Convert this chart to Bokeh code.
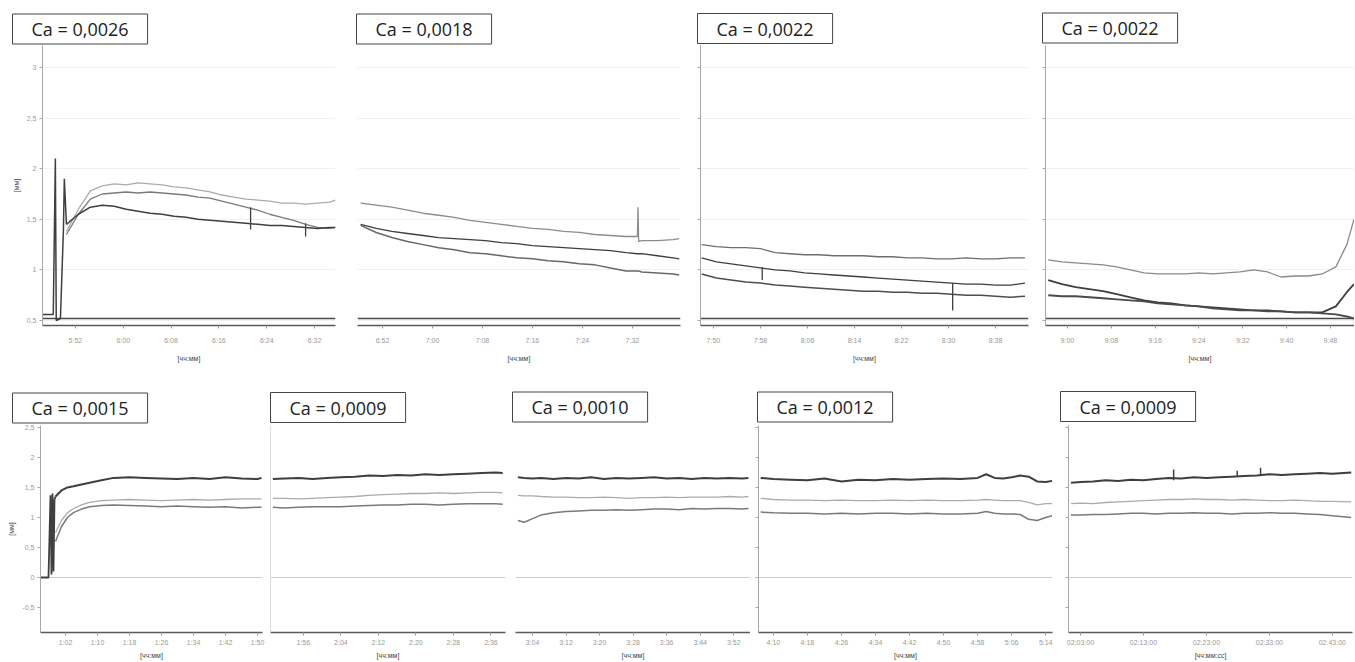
from bokeh.plotting import figure
from bokeh.layouts import row, column
from bokeh.models import Range1d, FixedTicker, Title
from bokeh.embed import file_html
from bokeh.resources import INLINE

# ---------------- data ----------------
ca_labels = ["Ca = 0,0026", "Ca = 0,0018", "Ca = 0,0022", "Ca = 0,0022",
             "Ca = 0,0015", "Ca = 0,0009", "Ca = 0,0010", "Ca = 0,0012", "Ca = 0,0009"]

top_yticks = [0.5, 1.0, 1.5, 2.0, 2.5, 3.0]
top_ylabels = ["0,5", "1", "1,5", "2", "2,5", "3"]
bot_yticks = [-0.5, 0.0, 0.5, 1.0, 1.5, 2.0, 2.5]
bot_ylabels = ["-0,5", "0", "0,5", "1", "1,5", "2", "2,5"]
top_base = 0.52
bot_zero = 0.0

p1_ticks = [0, 8, 16, 24, 32, 40]
p1_labels = ["5:52", "6:00", "6:08", "6:16", "6:24", "6:32"]
p1_x = [-1.5, 0.5, 2.5, 4.5, 6.5, 8.5, 10.5, 12.5, 14.5, 16.5, 18.5, 20.5, 22.5, 24.5, 26.5, 28.5, 30.5, 32.5, 34.5, 36.5, 38.5, 40.5, 42.5, 43.5]
p1_a = [1.38, 1.60, 1.78, 1.83, 1.85, 1.84, 1.86, 1.85, 1.84, 1.82, 1.81, 1.79, 1.77, 1.74, 1.72, 1.70, 1.69, 1.68, 1.66, 1.66, 1.65, 1.66, 1.67, 1.69]
p1_b = [1.35, 1.55, 1.70, 1.75, 1.76, 1.77, 1.76, 1.77, 1.76, 1.75, 1.74, 1.72, 1.71, 1.68, 1.65, 1.62, 1.59, 1.55, 1.52, 1.49, 1.45, 1.42, 1.41, 1.42]
p1_c = [1.45, 1.55, 1.62, 1.64, 1.63, 1.60, 1.58, 1.56, 1.55, 1.53, 1.52, 1.50, 1.49, 1.48, 1.47, 1.46, 1.45, 1.44, 1.44, 1.43, 1.42, 1.41, 1.42, 1.42]
p1_tr_x = [-5.5, -3.7, -3.35, -3.2, -2.5, -2.0, -1.85, -1.5]
p1_tr_y = [0.56, 0.56, 2.10, 0.50, 0.52, 1.40, 1.90, 1.45]
p1_sp_x = [29.3, 38.5]
p1_sp_lo = [1.40, 1.33]
p1_sp_hi = [1.62, 1.46]

p2_ticks = [0, 8, 16, 24, 32, 40]
p2_labels = ["6:52", "7:00", "7:08", "7:16", "7:24", "7:32"]
p2_x = [-3.5, -1, 1.5, 4, 6.5, 9, 11.5, 14, 16.5, 19, 21.5, 24, 26.5, 29, 31.5, 34, 36.5, 39, 40.8, 40.9, 41.0, 41.5, 44, 46.5, 47.5]
p2_a = [1.66, 1.64, 1.62, 1.59, 1.56, 1.54, 1.52, 1.49, 1.47, 1.45, 1.43, 1.41, 1.40, 1.38, 1.37, 1.35, 1.34, 1.33, 1.33, 1.62, 1.28, 1.29, 1.29, 1.30, 1.31]
p2_b = [1.45, 1.41, 1.38, 1.36, 1.34, 1.32, 1.31, 1.30, 1.29, 1.27, 1.26, 1.24, 1.23, 1.22, 1.21, 1.20, 1.19, 1.17, 1.16, 1.16, 1.16, 1.16, 1.14, 1.12, 1.11]
p2_c = [1.44, 1.37, 1.32, 1.28, 1.25, 1.22, 1.20, 1.17, 1.16, 1.14, 1.12, 1.11, 1.09, 1.08, 1.06, 1.05, 1.02, 0.99, 0.99, 0.99, 0.99, 0.98, 0.97, 0.96, 0.95]

p3_ticks = [0, 8, 16, 24, 32, 40, 48]
p3_labels = ["7:50", "7:58", "8:06", "8:14", "8:22", "8:30", "8:38"]
p3_x = [-2, 0.5, 3, 5.5, 8, 10.5, 13, 15.5, 18, 20.5, 23, 25.5, 28, 30.5, 33, 35.5, 38, 40.5, 43, 45.5, 48, 50.5, 53]
p3_a = [1.25, 1.23, 1.22, 1.22, 1.21, 1.17, 1.16, 1.15, 1.15, 1.14, 1.14, 1.14, 1.13, 1.13, 1.12, 1.12, 1.11, 1.11, 1.12, 1.11, 1.11, 1.12, 1.12]
p3_b = [1.12, 1.08, 1.06, 1.04, 1.02, 1.00, 0.99, 0.97, 0.96, 0.95, 0.94, 0.93, 0.92, 0.91, 0.90, 0.89, 0.88, 0.87, 0.86, 0.86, 0.85, 0.85, 0.87]
p3_c = [0.96, 0.92, 0.90, 0.88, 0.87, 0.85, 0.84, 0.83, 0.82, 0.81, 0.80, 0.79, 0.79, 0.78, 0.78, 0.77, 0.77, 0.76, 0.75, 0.75, 0.74, 0.73, 0.74]
p3_sp_x = [8.3, 40.7]
p3_sp_lo = [0.90, 0.60]
p3_sp_hi = [1.03, 0.87]

p4_ticks = [0, 8, 16, 24, 32, 40, 48]
p4_labels = ["9:00", "9:08", "9:16", "9:24", "9:32", "9:40", "9:48"]
p4_x = [-3.5, -1, 1.5, 4, 6.5, 9, 11.5, 14, 16.5, 19, 21.5, 24, 26.5, 29, 31.5, 34, 36.5, 39, 41.5, 44, 46.5, 49, 51, 52.3]
p4_a = [1.10, 1.08, 1.07, 1.06, 1.05, 1.03, 1.00, 0.97, 0.96, 0.96, 0.96, 0.97, 0.96, 0.97, 0.98, 1.00, 0.98, 0.93, 0.94, 0.94, 0.96, 1.03, 1.25, 1.50]
p4_b = [0.90, 0.86, 0.83, 0.81, 0.79, 0.76, 0.73, 0.70, 0.68, 0.67, 0.65, 0.64, 0.63, 0.62, 0.61, 0.60, 0.60, 0.59, 0.58, 0.58, 0.58, 0.64, 0.78, 0.86]
p4_c = [0.75, 0.74, 0.74, 0.73, 0.72, 0.71, 0.70, 0.69, 0.67, 0.66, 0.65, 0.64, 0.62, 0.61, 0.60, 0.60, 0.59, 0.59, 0.58, 0.58, 0.57, 0.56, 0.54, 0.52]

p5_ticks = [0, 8, 16, 24, 32, 40, 48]
p5_labels = ["1:02", "1:10", "1:18", "1:26", "1:34", "1:42", "1:50"]
p5_x = [-2.5, -1, 0.5, 2, 4, 6, 9, 12, 16, 20, 24, 28, 32, 36, 40, 44, 48, 49]
p5_dark = [1.35, 1.45, 1.50, 1.52, 1.55, 1.58, 1.62, 1.66, 1.67, 1.66, 1.65, 1.64, 1.66, 1.64, 1.67, 1.65, 1.64, 1.66]
p5_light = [0.75, 0.95, 1.08, 1.15, 1.21, 1.25, 1.28, 1.29, 1.30, 1.29, 1.28, 1.29, 1.30, 1.29, 1.30, 1.31, 1.31, 1.31]
p5_med = [0.60, 0.85, 1.00, 1.08, 1.14, 1.18, 1.20, 1.21, 1.20, 1.19, 1.18, 1.19, 1.18, 1.17, 1.18, 1.16, 1.17, 1.17]
p5_tr_x = [-6.25, -4.25, -3.75, -3.5, -3.25, -3.0, -2.75, -2.5]
p5_tr_y = [0.0, 0.0, 1.37, 0.05, 1.40, 0.10, 1.30, 1.35]

p6_ticks = [0, 8, 16, 24, 32, 40]
p6_labels = ["1:56", "2:04", "2:12", "2:20", "2:28", "2:36"]
p6_x = [-6.5, -4, -1, 2, 5, 8, 11, 14, 17, 20, 23, 26, 29, 32, 35, 38, 41, 42.5]
p6_dark = [1.64, 1.65, 1.66, 1.64, 1.66, 1.67, 1.68, 1.70, 1.69, 1.71, 1.70, 1.72, 1.71, 1.72, 1.73, 1.74, 1.75, 1.74]
p6_light = [1.32, 1.32, 1.31, 1.32, 1.33, 1.34, 1.35, 1.37, 1.38, 1.39, 1.40, 1.40, 1.41, 1.40, 1.41, 1.42, 1.42, 1.41]
p6_med = [1.17, 1.16, 1.17, 1.18, 1.18, 1.18, 1.19, 1.20, 1.21, 1.21, 1.22, 1.22, 1.21, 1.22, 1.23, 1.23, 1.23, 1.22]

p7_ticks = [0, 8, 16, 24, 32, 40, 48]
p7_labels = ["3:04", "3:12", "3:20", "3:28", "3:36", "3:44", "3:52"]
p7_x = [-3.5, -2, 0, 2, 5, 8, 11, 14, 17, 20, 23, 26, 29, 32, 35, 38, 41, 44, 47, 50, 51.5]
p7_dark = [1.67, 1.66, 1.65, 1.66, 1.64, 1.66, 1.65, 1.67, 1.64, 1.66, 1.65, 1.66, 1.67, 1.65, 1.66, 1.64, 1.66, 1.65, 1.66, 1.65, 1.66]
p7_light = [1.37, 1.36, 1.36, 1.35, 1.34, 1.34, 1.33, 1.33, 1.34, 1.33, 1.32, 1.33, 1.33, 1.34, 1.33, 1.34, 1.34, 1.34, 1.35, 1.34, 1.35]
p7_med = [0.95, 0.92, 0.98, 1.04, 1.08, 1.10, 1.11, 1.12, 1.12, 1.13, 1.12, 1.13, 1.14, 1.14, 1.13, 1.15, 1.14, 1.15, 1.15, 1.14, 1.15]

p8_ticks = [0, 8, 16, 24, 32, 40, 48, 56, 64]
p8_labels = ["4:10", "4:18", "4:26", "4:34", "4:42", "4:50", "4:58", "5:06", "5:14"]
p8_x = [-3, 0, 4, 8, 12, 16, 20, 24, 28, 32, 36, 40, 44, 48, 50, 52, 54, 56, 58, 60, 62, 64, 65.5]
p8_dark = [1.66, 1.64, 1.63, 1.62, 1.65, 1.60, 1.63, 1.62, 1.64, 1.63, 1.64, 1.65, 1.64, 1.66, 1.72, 1.66, 1.65, 1.67, 1.70, 1.68, 1.60, 1.59, 1.61]
p8_light = [1.32, 1.30, 1.29, 1.29, 1.28, 1.29, 1.28, 1.28, 1.29, 1.28, 1.29, 1.28, 1.28, 1.29, 1.30, 1.29, 1.28, 1.28, 1.28, 1.25, 1.21, 1.23, 1.23]
p8_med = [1.09, 1.08, 1.07, 1.07, 1.06, 1.07, 1.06, 1.07, 1.07, 1.06, 1.07, 1.06, 1.06, 1.07, 1.10, 1.07, 1.06, 1.06, 1.05, 0.97, 0.95, 1.00, 1.03]

p9_ticks = [0, 10, 20, 30, 40]
p9_labels = ["02:03:00", "02:13:00", "02:23:00", "02:33:00", "02:43:00"]
p9_x = [-1.5, 0, 2, 4, 6, 8, 10, 12, 14, 16, 18, 20, 22, 24, 26, 28, 30, 32, 34, 36, 38, 40, 43]
p9_dark = [1.58, 1.59, 1.60, 1.62, 1.61, 1.63, 1.62, 1.64, 1.66, 1.65, 1.67, 1.66, 1.67, 1.68, 1.69, 1.70, 1.72, 1.71, 1.72, 1.73, 1.74, 1.73, 1.75]
p9_light = [1.23, 1.24, 1.23, 1.25, 1.26, 1.27, 1.28, 1.29, 1.30, 1.30, 1.31, 1.30, 1.30, 1.29, 1.30, 1.29, 1.28, 1.28, 1.29, 1.28, 1.27, 1.27, 1.26]
p9_med = [1.04, 1.04, 1.05, 1.05, 1.06, 1.07, 1.07, 1.06, 1.07, 1.07, 1.08, 1.07, 1.07, 1.06, 1.07, 1.07, 1.08, 1.07, 1.07, 1.06, 1.05, 1.03, 1.00]
p9_sp_x = [14.8, 24.9, 28.6]
p9_sp_lo = [1.62, 1.68, 1.70]
p9_sp_hi = [1.80, 1.78, 1.83]

# ---------------- styling ----------------
DARK = "#3f3f3f"
MED = "#7a7a7a"
LIGHT = "#ababab"
TOP_Y = (0.451, 3.217)
BOT_Y = (-0.917, 2.533)


def panel(width, height, lb, rb, tb, bb, xr, yr, xticks, xlabels, yticks, ylabels,
          yaxis_mode, xlab, ylab, label_text, box_dx, box_gap, top_row):
    p = figure(width=width, height=height, min_border_left=lb, min_border_right=rb,
               min_border_top=tb, min_border_bottom=bb,
               x_range=Range1d(*xr), y_range=Range1d(*yr),
               output_backend="svg", toolbar_location=None, tools="",
               y_axis_location=None if yaxis_mode == "none" else "left")
    p.outline_line_color = None
    p.border_fill_color = "white"
    p.background_fill_color = "white"
    p.xgrid.grid_line_color = None
    p.ygrid.grid_line_color = "#f1f1f1" if top_row else None
    p.ygrid.ticker = FixedTicker(ticks=yticks)

    xa = p.xaxis[0]
    xa.ticker = FixedTicker(ticks=xticks)
    xa.major_label_overrides = {t: l for t, l in zip(xticks, xlabels)}
    xa.major_label_text_font_size = "7px"
    xa.major_label_text_color = "#9a9a9a"
    xa.major_label_text_font = "Liberation Sans"
    xa.major_label_standoff = 8 if top_row else 3
    xa.axis_line_color = "#5a5a5a"
    xa.axis_line_width = 1.5
    xa.major_tick_line_color = "#9a9a9a"
    xa.major_tick_out = 3
    xa.major_tick_in = 0
    xa.minor_tick_line_color = None
    xa.axis_label = xlab
    xa.axis_label_text_font_size = "7px"
    xa.axis_label_text_font_style = "normal"
    xa.axis_label_text_color = "#444444"
    xa.axis_label_standoff = 8 if top_row else 3

    if yaxis_mode != "none":
        ya = p.yaxis[0]
        ya.axis_line_color = "#a8a8a8"
        ya.major_tick_line_color = "#a8a8a8"
        ya.major_tick_out = 3
        ya.major_tick_in = 0
        if yaxis_mode == "full":
            ya.ticker = FixedTicker(ticks=yticks)
            ya.minor_tick_line_color = None
            ya.major_label_overrides = {t: l for t, l in zip(yticks, ylabels)}
            ya.major_label_text_font_size = "7px"
            ya.major_label_text_color = "#9a9a9a"
            ya.major_label_standoff = 3
            ya.axis_label = ylab
            ya.axis_label_text_font_size = "7px"
            ya.axis_label_text_font_style = "normal"
            ya.axis_label_text_color = "#444444"
            ya.axis_label_standoff = 4
        elif yaxis_mode == "bare":
            ya.ticker = FixedTicker(ticks=[], minor_ticks=yticks)
            ya.minor_tick_line_color = "#a8a8a8"
            ya.minor_tick_out = 3
            ya.minor_tick_in = 0
            ya.major_label_standoff = 0
        else:  # axis line only
            ya.axis_line_color = "#dedede"
            ya.ticker = FixedTicker(ticks=[])
            ya.minor_tick_line_color = None
            ya.major_tick_line_color = None
            ya.major_label_standoff = 0

    p.title = Title(text=label_text, align="left", offset=box_dx, standoff=box_gap,
                    text_font="Open Sans", text_font_size="18px", text_font_style="normal",
                    text_color="#222222", background_fill_color="white",
                    border_line_color="#444444", border_line_width=1, padding=(19, 3))
    return p


def three(p, x, a, b, c, ca, cb, cc, wa=1.3, wb=1.3, wc=1.5):
    p.line(x, a, line_color=ca, line_width=wa)
    p.line(x, b, line_color=cb, line_width=wb)
    p.line(x, c, line_color=cc, line_width=wc)


TH, TT, TB = 380, 45, 55
BH, BT, BB = 281, 45, 29

f1 = panel(345, TH, 42, 10, TT, TB, (-5.5, 43.5), TOP_Y, p1_ticks, p1_labels, top_yticks, top_ylabels,
           "full", "[чч:мм]", "[мм]", ca_labels[0], -30, 3, True)
f1.line([-5.5, 43.5], [top_base, top_base], line_color="#4a4a4a", line_width=1.3)
three(f1, p1_x, p1_a, p1_b, p1_c, LIGHT, MED, DARK)
f1.line(p1_tr_x, p1_tr_y, line_color=DARK, line_width=1.5)
f1.segment(x0=p1_sp_x, y0=p1_sp_lo, x1=p1_sp_x, y1=p1_sp_hi, line_color=DARK, line_width=1.3)

f2 = panel(345, TH, 12, 10, TT, TB, (-4.0, 47.7), TOP_Y, p2_ticks, p2_labels, top_yticks, top_ylabels,
           "none", "[чч:мм]", "", ca_labels[1], -1, 3, True)
f2.line([-4.0, 47.7], [top_base, top_base], line_color="#4a4a4a", line_width=1.3)
three(f2, p2_x, p2_a, p2_b, p2_c, "#8c8c8c", DARK, "#686868")

f3 = panel(345, TH, 10, 7, TT, TB, (-2.2, 53.6), TOP_Y, p3_ticks, p3_labels, top_yticks, top_ylabels,
           "bare", "[чч:мм]", "", ca_labels[2], -3, 4, True)
f3.line([-2.2, 53.6], [top_base, top_base], line_color="#4a4a4a", line_width=1.3)
three(f3, p3_x, p3_a, p3_b, p3_c, "#6e6e6e", DARK, "#4e4e4e")
f3.segment(x0=p3_sp_x, y0=p3_sp_lo, x1=p3_sp_x, y1=p3_sp_hi, line_color=DARK, line_width=1.3)

f4 = panel(319, TH, 10, 0, TT, TB, (-4.0, 52.4), TOP_Y, p4_ticks, p4_labels, top_yticks, top_ylabels,
           "bare", "[чч:мм]", "", ca_labels[3], -3, 5, True)
f4.line([-4.0, 52.4], [top_base, top_base], line_color="#4a4a4a", line_width=1.3)
three(f4, p4_x, p4_a, p4_b, p4_c, "#8a8a8a", DARK, "#4a4a4a", wb=1.8, wc=1.8)

f5 = panel(267, BH, 40, 5, BT, BB, (-6.25, 49.25), BOT_Y, p5_ticks, p5_labels, bot_yticks, bot_ylabels,
           "full", "[чч:мм]", "[мм]", ca_labels[4], -28, 5, False)
f5.line([-6.25, 49.25], [bot_zero, bot_zero], line_color="#cfcfcf", line_width=1.2)
three(f5, p5_x, p5_dark, p5_light, p5_med, DARK, LIGHT, MED, wa=2.0)
f5.line(p5_tr_x, p5_tr_y, line_color=DARK, line_width=1.8)

f6 = panel(243, BH, 3, 5, BT, BB, (-7.0, 43.1), BOT_Y, p6_ticks, p6_labels, bot_yticks, bot_ylabels,
           "line", "[чч:мм]", "", ca_labels[5], 0, 6, False)
f6.line([-7.0, 43.1], [bot_zero, bot_zero], line_color="#cfcfcf", line_width=1.2)
three(f6, p6_x, p6_dark, p6_light, p6_med, DARK, LIGHT, MED, wa=2.0)

f7 = panel(240, BH, 5, 0, BT, BB, (-4.06, 52.0), BOT_Y, p7_ticks, p7_labels, bot_yticks, bot_ylabels,
           "none", "[чч:мм]", "", ca_labels[6], -3, 7, False)
f7.line([-4.06, 52.0], [bot_zero, bot_zero], line_color="#cfcfcf", line_width=1.2)
three(f7, p7_x, p7_dark, p7_light, p7_med, DARK, LIGHT, MED, wa=2.0)

f8 = panel(310, BH, 8, 8, BT, BB, (-3.5, 65.6), BOT_Y, p8_ticks, p8_labels, bot_yticks, bot_ylabels,
           "bare", "[чч:мм]", "", ca_labels[7], -1, 7, False)
f8.line([-3.5, 65.6], [bot_zero, bot_zero], line_color="#cfcfcf", line_width=1.2)
three(f8, p8_x, p8_dark, p8_light, p8_med, DARK, LIGHT, MED, wa=2.0)

f9 = panel(294, BH, 8, 2, BT, BB, (-1.9, 43.2), BOT_Y, p9_ticks, p9_labels, bot_yticks, bot_ylabels,
           "bare", "[чч:мм:сс]", "", ca_labels[8], -8, 8, False)
f9.line([-1.9, 43.2], [bot_zero, bot_zero], line_color="#cfcfcf", line_width=1.2)
three(f9, p9_x, p9_dark, p9_light, p9_med, DARK, LIGHT, MED, wa=2.0)
f9.segment(x0=p9_sp_x, y0=p9_sp_lo, x1=p9_sp_x, y1=p9_sp_hi, line_color=DARK, line_width=1.5)

layout = column(row(f1, f2, f3, f4, spacing=0), row(f5, f6, f7, f8, f9, spacing=0), spacing=0)

with open("out.html", "w") as fh:
    fh.write(file_html(layout, INLINE))
